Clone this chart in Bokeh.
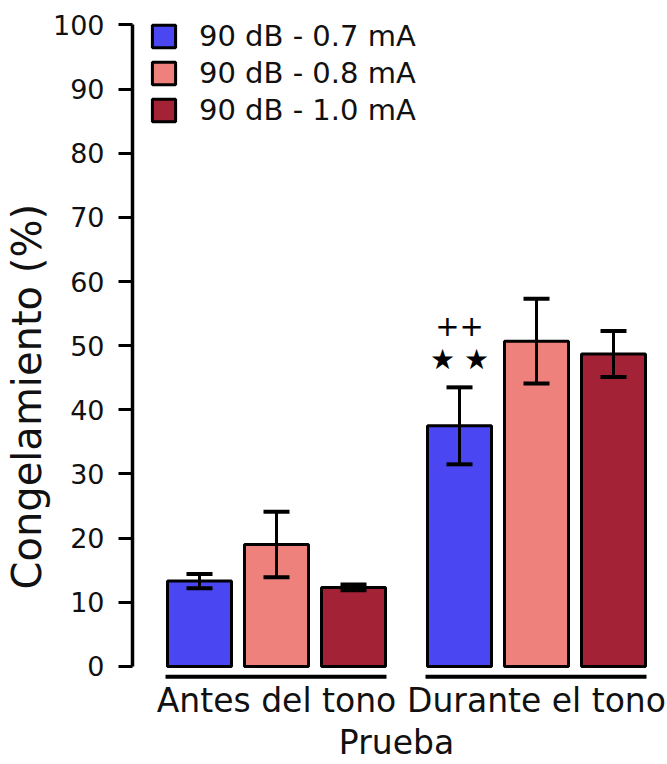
from bokeh.plotting import figure
from bokeh.models import (Range1d, FixedTicker, Legend, LegendItem, Title,
                          ColumnDataSource)
from bokeh.core.properties import value
from bokeh.embed import file_html
from bokeh.resources import INLINE

# ---- data ----
groups = ["Antes del tono", "Durante el tono"]
series = ["90 dB - 0.7 mA", "90 dB - 0.8 mA", "90 dB - 1.0 mA"]
means_07 = [13.3, 37.5]
means_08 = [19.0, 50.7]
means_10 = [12.3, 48.7]
sem_07 = [1.1, 6.0]
sem_08 = [5.1, 6.6]
sem_10 = [0.45, 3.6]
y_ticks = [0, 10, 20, 30, 40, 50, 60, 70, 80, 90, 100]
y_label = "Congelamiento (%)"
x_label = "Prueba"
sig_marks = ["★ ★", "++"]  # over 0.7 mA bar, "Durante el tono"

colors = ["#4A47F2", "#EE817C", "#A42236"]
FONT = "DejaVu Sans"

# ---- layout (screen-ish units on x) ----
group_centers = [144, 404]
offsets = [-77, 0, 77]
bar_w = 64

p = figure(width=667, height=764, output_backend="svg", toolbar_location=None,
           x_range=Range1d(0, 528), y_range=Range1d(-2.2, 101),
           min_border_left=132, min_border_right=7, min_border_top=18,
           min_border_bottom=83)
p.xgrid.visible = False
p.ygrid.visible = False
p.outline_line_color = None
p.background_fill_color = "white"
p.border_fill_color = "white"

all_means = [means_07, means_08, means_10]
all_sems = [sem_07, sem_08, sem_10]
items = []
for i, (name, m, s, c) in enumerate(zip(series, all_means, all_sems, colors)):
    xs = [g + offsets[i] for g in group_centers]
    src = ColumnDataSource(dict(x=xs, top=m,
                                lo=[a - b for a, b in zip(m, s)],
                                hi=[a + b for a, b in zip(m, s)],
                                cl=[x - 13 for x in xs], cr=[x + 13 for x in xs]))
    r = p.vbar(x="x", top="top", bottom=0, width=bar_w, source=src,
               fill_color=c, line_color="black", line_width=3)
    p.segment(x0="x", y0="lo", x1="x", y1="hi", source=src,
              line_color="black", line_width=3)
    p.segment(x0="cl", y0="hi", x1="cr", y1="hi", source=src,
              line_color="black", line_width=4)
    p.segment(x0="cl", y0="lo", x1="cr", y1="lo", source=src,
              line_color="black", line_width=4)
    items.append(LegendItem(label=name, renderers=[r]))

# broken x-axis baseline under each group
base_y = -1.6
p.segment(x0=[g - 111 for g in group_centers], y0=[base_y] * 2,
          x1=[g + 110 for g in group_centers], y1=[base_y] * 2,
          line_color="black", line_width=4)

# significance marks above the 0.7 mA bar in "Durante el tono"
bx = group_centers[1] + offsets[0]
top_err = means_07[1] + sem_07[1]
p.text(x=[bx], y=[top_err + 4.4], text=[sig_marks[0]], text_align="center",
       text_baseline="middle", text_font=value(FONT), text_font_size="28px",
       text_color="black")
p.text(x=[bx], y=[top_err + 9.7], text=[sig_marks[1]], text_align="center",
       text_baseline="middle", text_font=value(FONT), text_font_size="29px",
       text_color="black")

# y axis
ya = p.yaxis[0]
ya.ticker = FixedTicker(ticks=y_ticks)
ya.bounds = (0, 100)
ya.axis_line_width = 3.5
ya.axis_line_color = "black"
ya.major_tick_out = 14
ya.major_tick_in = 0
ya.major_tick_line_width = 3
ya.major_tick_line_color = "black"
ya.minor_tick_line_color = None
ya.major_label_text_font = FONT
ya.major_label_text_font_size = "27px"
ya.major_label_text_color = "#111111"
ya.major_label_standoff = 14

# x axis: labels only
xa = p.xaxis[0]
xa.ticker = FixedTicker(ticks=group_centers)
xa.major_label_overrides = {g: t for g, t in zip(group_centers, groups)}
xa.axis_line_color = None
xa.major_tick_line_color = None
xa.minor_tick_line_color = None
xa.major_tick_out = 0
xa.major_tick_in = 0
xa.major_label_text_font = FONT
xa.major_label_text_font_size = "33px"
xa.major_label_text_color = "#111111"
xa.major_label_standoff = 0
xa.axis_label = x_label
xa.axis_label_text_font = FONT
xa.axis_label_text_font_size = "33px"
xa.axis_label_text_font_style = "normal"
xa.axis_label_text_color = "#111111"
xa.axis_label_standoff = 0

# y-axis title (placed off-centre like the reference)
p.add_layout(Title(text=y_label, align="left", offset=91, standoff=0,
                   vertical_align="bottom",
                   text_font=FONT, text_font_size="40px",
                   text_font_style="normal", text_color="#111111"), "left")

legend = Legend(items=items, location=(17, 553))
legend.padding = 0
legend.margin = 0
legend.spacing = 3
legend.glyph_width = 29
legend.glyph_height = 28
legend.label_height = 28
legend.label_standoff = 21
legend.label_text_font = FONT
legend.label_text_font_size = "29px"
legend.label_text_color = "#111111"
legend.border_line_color = None
legend.background_fill_alpha = 0
p.add_layout(legend)

open("out.html", "w").write(file_html(p, INLINE))
